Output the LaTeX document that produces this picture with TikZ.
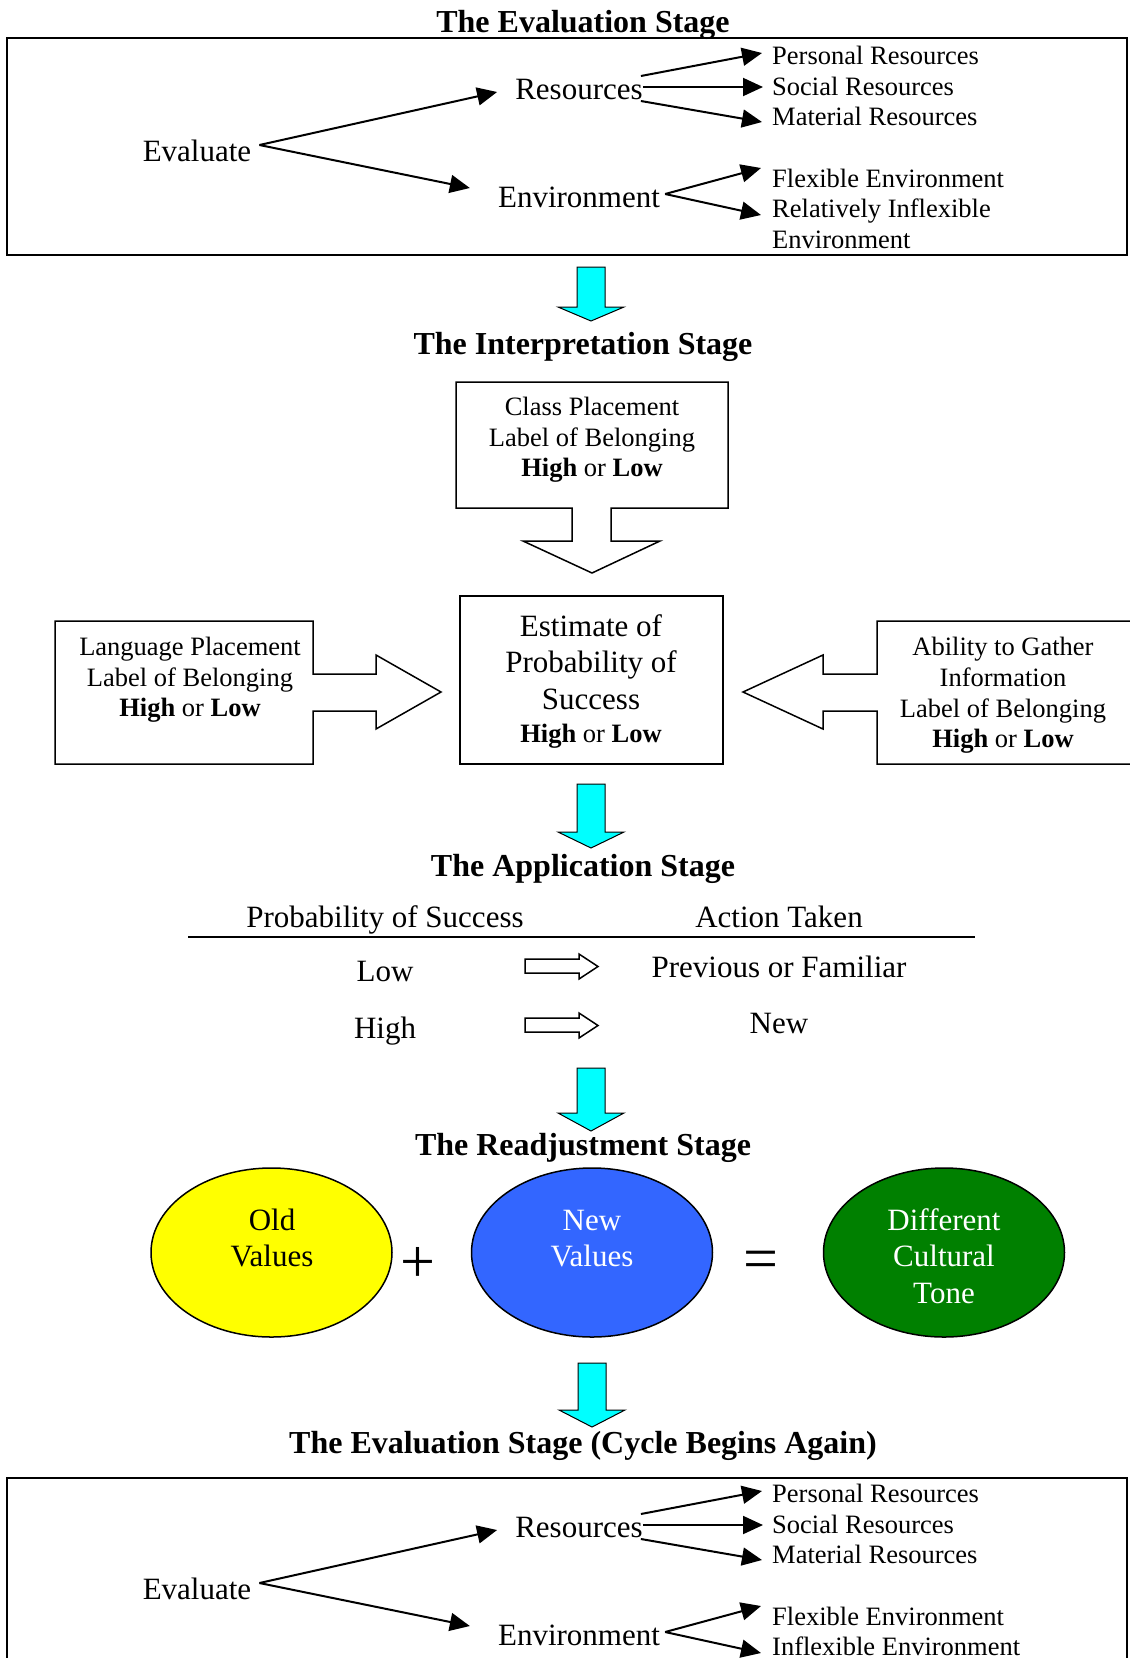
\documentclass[tikz,border=0pt]{standalone}
\usepackage{fontspec}
\setmainfont{Liberation Serif}
\usetikzlibrary{arrows.meta,shapes.geometric}
\definecolor{cyanA}{RGB}{0,255,255}
\definecolor{yellowA}{RGB}{255,255,0}
\definecolor{blueA}{RGB}{51,102,255}
\definecolor{greenA}{RGB}{0,128,0}
\tikzset{
  ttl/.style={font=\fontsize{32}{36}\selectfont\bfseries, anchor=base, inner sep=0pt},
  big/.style={font=\fontsize{31}{36}\selectfont, anchor=base, inner sep=0pt},
  sml/.style={font=\fontsize{26.5}{30}\selectfont, anchor=base, inner sep=0pt},
  item/.style={sml, anchor=base west},
  arr/.style={line width=2pt, -{Triangle[length=20pt,width=18pt]}},
  cyanarrow/.style={fill=cyanA, draw=black, line width=1pt},
  blk/.style={draw=black, line width=1.5pt},
  frame/.style={draw=black, line width=2.5pt},
  bubble/.style={ellipse, draw=black, line width=1.5pt, minimum width=241pt, minimum height=169pt, inner sep=0pt},
  sym/.style={font=\fontsize{62}{62}\selectfont, inner sep=0pt},
}
\begin{document}
\begin{tikzpicture}[x=1pt,y=-1pt]
\clip (0,0) rectangle (1130,1658);
\fill[white] (0,0) rectangle (1130,1658);

% ---------- The Evaluation Stage ----------
\node[ttl] (t1) at (583,32) {The Evaluation Stage};
\draw[frame] (7,38) rectangle (1127,255);
\node[big] (ev) at (197,161) {Evaluate};
\node[big] (res) at (579,99) {Resources};
\node[big] (env) at (579,207) {Environment};
\node[item] (pr) at (772,64) {Personal Resources};
\node[item] (sr) at (772,95) {Social Resources};
\node[item] (mr) at (772,125) {Material Resources};
\node[item] (fe) at (772,187) {Flexible Environment};
\node[item] (ri) at (772,217) {Relatively Inflexible};
\node[item] (ri2) at (772,248) {Environment};
\draw[arr] ([shift={(8,-16)}]ev.base east) -- ([shift={(-18,-7)}]res.base west);
\draw[arr] ([shift={(8,-16)}]ev.base east) -- ([shift={(-28,-19)}]env.base west);
\draw[arr] ([shift={(-2,-23)}]res.base east) -- ([shift={(-10,-11)}]pr.base west);
\draw[arr] ([shift={(0,-12)}]res.base east) -- ([shift={(-9,-8)}]sr.base west);
\draw[arr] ([shift={(-2,2)}]res.base east) -- ([shift={(-10,-3)}]mr.base west);
\draw[arr] ([shift={(5,-13)}]env.base east) -- ([shift={(-11,-19)}]fe.base west);
\draw[arr] ([shift={(5,-13)}]env.base east) -- ([shift={(-11,-2)}]ri.base west);

% cyan arrow 1
\draw[cyanarrow] (577,267) -- (605,267) -- (605,307) -- (624,307) -- (591,321) -- (558,307) -- (577,307) -- cycle;

% ---------- The Interpretation Stage ----------
\node[ttl] (t2) at (583,354) {The Interpretation Stage};
\draw[blk] (456,382) -- (728,382) -- (728,508) -- (611,508) -- (611,541) -- (660,541) -- (592,573) -- (523,541) -- (572,541) -- (572,508) -- (456,508) -- cycle;
\node[sml] (cp1) at (592,415) {Class Placement};
\node[sml] (cp2) at (592,446) {Label of Belonging};
\node[sml] (cp3) at (592,476) {\textbf{High} or \textbf{Low}};

\node[blk, minimum width=263pt, minimum height=168pt, inner sep=0pt] (est) at (591.5,680) {};
\node[big] (es1) at (591,636) {Estimate of};
\node[big] (es2) at (591,672) {Probability of};
\node[big] (es3) at (591,709) {Success};
\node[sml] (es4) at (591,742) {\textbf{High} or \textbf{Low}};

\draw[blk] (55,621) -- (313,621) -- (313,674) -- (376,674) -- (376,655) -- (441,692) -- (376,729) -- (376,711) -- (313,711) -- (313,764) -- (55,764) -- cycle;
\node[sml] (lp1) at (190,655) {Language Placement};
\node[sml] (lp2) at (190,686) {Label of Belonging};
\node[sml] (lp3) at (190,716) {\textbf{High} or \textbf{Low}};

\draw[blk] (1145,621) -- (877,621) -- (877,674) -- (823,674) -- (823,655) -- (743,692) -- (823,729) -- (823,711) -- (877,711) -- (877,764) -- (1145,764);
\node[sml] (ag1) at (1003,655) {Ability to Gather};
\node[sml] (ag2) at (1003,686) {Information};
\node[sml] (ag3) at (1003,717) {Label of Belonging};
\node[sml] (ag4) at (1003,747) {\textbf{High} or \textbf{Low}};

% cyan arrow 2
\draw[cyanarrow] (577,784) -- (605,784) -- (605,832) -- (624,832) -- (591,848) -- (558,832) -- (577,832) -- cycle;

% ---------- The Application Stage ----------
\node[ttl] (t3) at (583,876) {The Application Stage};
\node[big] (hp) at (385,927) {Probability of Success};
\node[big] (ha) at (779,927) {Action Taken};
\draw[line width=2pt] (188,937) -- (975,937);
\node[big] (lo) at (385,981) {Low};
\node[big] (pf) at (779,977) {Previous or Familiar};
\node[big] (hi) at (385,1038) {High};
\node[big] (nw) at (779,1033) {New};
\draw[blk] (525,959) -- (579,959) -- (579,954) -- (598,966.5) -- (579,979) -- (579,973) -- (525,973) -- cycle;
\draw[blk] (525,1018) -- (579,1018) -- (579,1013) -- (598,1025.5) -- (579,1038) -- (579,1032) -- (525,1032) -- cycle;

% cyan arrow 3
\draw[cyanarrow] (577,1068) -- (605,1068) -- (605,1113) -- (624,1113) -- (591,1131) -- (558,1113) -- (577,1113) -- cycle;

% ---------- The Readjustment Stage ----------
\node[ttl] (t4) at (583,1155) {The Readjustment Stage};
\node[bubble, fill=yellowA] (old) at (271.5,1252.5) {};
\node[bubble, fill=blueA] (new) at (592,1252.5) {};
\node[bubble, fill=greenA] (dif) at (944,1252.5) {};
\node[big] (o1) at (272,1230) {Old};
\node[big] (o2) at (272,1266) {Values};
\node[big, text=white] (n1) at (592,1230) {New};
\node[big, text=white] (n2) at (592,1266) {Values};
\node[big, text=white] (d1) at (944,1230) {Different};
\node[big, text=white] (d2) at (944,1266) {Cultural};
\node[big, text=white] (d3) at (944,1303) {Tone};
\node[sym] (plus) at (418,1265) {+};
\node[sym] (eq) at (761,1265) {=};

% cyan arrow 4
\draw[cyanarrow] (578,1363) -- (606,1363) -- (606,1410) -- (625,1410) -- (592,1427) -- (559,1410) -- (578,1410) -- cycle;

% ---------- The Evaluation Stage (Cycle Begins Again) ----------
\node[ttl] (t5) at (583,1453) {The Evaluation Stage (Cycle Begins Again)};
\draw[frame] (7,1478) rectangle (1127,1720);
\node[big] (bev) at (197,1599) {Evaluate};
\node[big] (bres) at (579,1537) {Resources};
\node[big] (benv) at (579,1645) {Environment};
\node[item] (bpr) at (772,1502) {Personal Resources};
\node[item] (bsr) at (772,1533) {Social Resources};
\node[item] (bmr) at (772,1563) {Material Resources};
\node[item] (bfe) at (772,1625) {Flexible Environment};
\node[item] (bie) at (772,1655) {Inflexible Environment};
\draw[arr] ([shift={(8,-16)}]bev.base east) -- ([shift={(-18,-7)}]bres.base west);
\draw[arr] ([shift={(8,-16)}]bev.base east) -- ([shift={(-28,-19)}]benv.base west);
\draw[arr] ([shift={(-2,-23)}]bres.base east) -- ([shift={(-10,-11)}]bpr.base west);
\draw[arr] ([shift={(0,-12)}]bres.base east) -- ([shift={(-9,-8)}]bsr.base west);
\draw[arr] ([shift={(-2,2)}]bres.base east) -- ([shift={(-10,-3)}]bmr.base west);
\draw[arr] ([shift={(5,-13)}]benv.base east) -- ([shift={(-11,-19)}]bfe.base west);
\draw[arr] ([shift={(5,-13)}]benv.base east) -- ([shift={(-11,-2)}]bie.base west);
\end{tikzpicture}
\end{document}
